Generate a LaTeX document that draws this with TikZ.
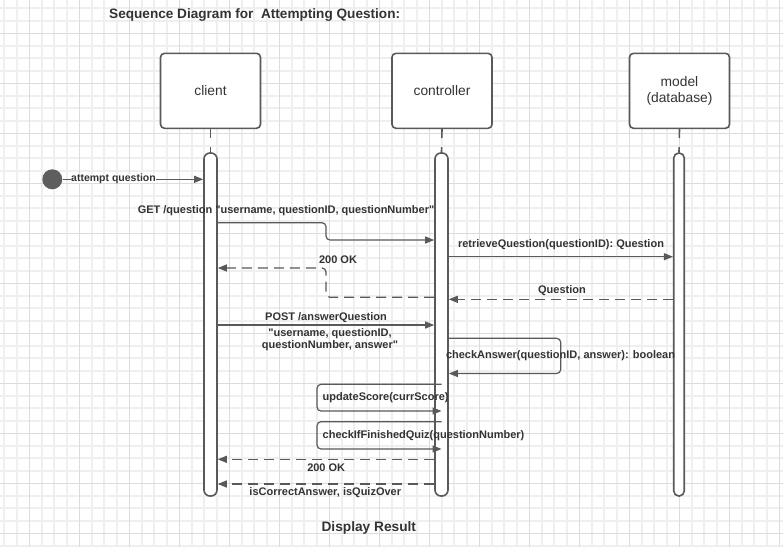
\documentclass[tikz,border=0pt]{standalone}
\usepackage{fontspec}
\setmainfont{Liberation Sans}[Ligatures=TeXOff]
\usetikzlibrary{arrows.meta}
\definecolor{ln}{HTML}{595959}
\definecolor{tx}{HTML}{333333}
\definecolor{gminor}{HTML}{EFEFEF}
\definecolor{gmajor}{HTML}{DCDCDC}
\definecolor{dot}{HTML}{5E5E5E}
\begin{document}
\begin{tikzpicture}[x=1pt,y=-1pt,
  head/.style={draw=ln, line width=1.6pt, rounded corners=4pt, fill=white, minimum width=100pt, minimum height=75pt, inner sep=0pt, text=tx, font=\fontsize{13.8}{16}\selectfont, align=center},
  bar/.style={draw=ln, line width=1.6pt, rounded corners=6pt, fill=white, minimum height=343pt, minimum width=13pt, inner sep=0pt},
  msg/.style={draw=ln, line width=1.2pt, -{Triangle[length=9pt,width=7pt]}},
  ret/.style={msg, dash pattern=on 10pt off 6pt},
  lbl/.style={text=tx, font=\bfseries\fontsize{11}{12.5}\selectfont, inner sep=0pt, anchor=base},
  stub/.style={draw=ln, line width=1.6pt, dash pattern=on 9pt off 9pt},
]
\useasboundingbox (0,0) rectangle (783,547);
\fill[white] (0,0) rectangle (783,547);
\begin{scope}
\clip (0,0) rectangle (783,547);
\foreach \j in {-1,...,15} {
  \foreach \d in {12.5,25,37.5} {
    \draw[gminor, line width=1.8pt] (29.3+50*\j+\d,0) -- (29.3+50*\j+\d,547);
  }
}
\foreach \j in {-1,...,10} {
  \foreach \d in {12.5,25,37.5} {
    \draw[gminor, line width=1.8pt] (0,33.3+50*\j+\d) -- (783,33.3+50*\j+\d);
  }
}
\foreach \j in {0,...,15} {
  \draw[gmajor, line width=0.9pt] (29.3+50*\j,0) -- (29.3+50*\j,547);
}
\foreach \j in {0,...,10} {
  \draw[gmajor, line width=0.9pt] (0,33.3+50*\j) -- (783,33.3+50*\j);
}
\end{scope}

% title
\node[lbl, anchor=base west, font=\bfseries\fontsize{13.6}{16}\selectfont] (title) at (109,18.5) {Sequence Diagram for\ \ Attempting Question:};

% heads
\node[head] (client) at (210.5,90.8) {client};
\node[head] (controller) at (442,90.8) {controller};
\node[head] (model) at (679.5,90.8) {model\\(database)};

% activation bars
\node[bar] (cbar) at (210.5,324.5) {};
\node[bar] (kbar) at (441.5,324.5) {};
\node[bar, minimum width=10.5pt, rounded corners=5pt] (mbar) at (679,324.5) {};

% lifeline stubs
\draw[stub] (client.south) -- (cbar.north);
\draw[stub] (controller.south) -- (kbar.north);
\draw[stub] (model.south) -- (mbar.north);

% start
\node[circle, fill=dot, minimum size=20pt, inner sep=0pt] (start) at (52.3,179.3) {};

% levels
\coordinate (yGetA) at (0,222.7);
\coordinate (yGetB) at (0,240);
\coordinate (xElb) at (326,0);
\coordinate (yRet) at (0,256.7);
\coordinate (yQ) at (0,299.3);
\coordinate (yOkA) at (0,297.3);
\coordinate (yOkB) at (0,268);
\coordinate (yPost) at (0,325);
\coordinate (yCaA) at (0,338.3);
\coordinate (yCaB) at (0,373.5);
\coordinate (xCa) at (560.7,0);
\coordinate (xSelf) at (317,0);
\coordinate (yUsA) at (0,384.3);
\coordinate (yUsB) at (0,411);
\coordinate (yCfA) at (0,421.7);
\coordinate (yCfB) at (0,449);
\coordinate (yOkC) at (0,459.3);
\coordinate (yRes) at (0,484);

% messages
\draw[msg] (start.east) -- (cbar.west |- start);
\draw[msg, rounded corners=4pt] (cbar.east |- yGetA) -| (xElb |- yGetB) -- (kbar.west |- yGetB);
\draw[msg] (kbar.east |- yRet) -- (mbar.west |- yRet);
\draw[ret] (mbar.west |- yQ) -- (kbar.east |- yQ);
\draw[ret, rounded corners=4pt] (kbar.west |- yOkA) -| (xElb |- yOkB) -- (cbar.east |- yOkB);
\draw[msg] (cbar.east |- yPost) -- (kbar.west |- yPost);
\draw[msg, rounded corners=4pt] (kbar.east |- yCaA) -| (xCa |- yCaB) -- (kbar.east |- yCaB);
\draw[msg, rounded corners=4pt] (kbar.center |- yUsA) -| (xSelf |- yUsB) -- (kbar.center |- yUsB);
\draw[msg, rounded corners=4pt] (kbar.center |- yCfA) -| (xSelf |- yCfB) -- (kbar.center |- yCfB);
\draw[ret] (kbar.west |- yOkC) -- (cbar.east |- yOkC);
\draw[ret] (kbar.west |- yRes) -- (cbar.east |- yRes);

% labels
\node[lbl, fill=white, font=\bfseries\fontsize{10.5}{12}\selectfont] (lAtt) at (113.5,181.3) {attempt question};
\node[lbl] (lGet) at (286,213) {GET /question "username, questionID, questionNumber"};
\node[lbl] (lOk1) at (338,263) {200 OK};
\node[lbl] (lRet) at (561,247.5) {retrieveQuestion(questionID): Question};
\node[lbl] (lQ) at (562,293) {Question};
\node[lbl] (lPost) at (326,320) {POST /answerQuestion};
\node[lbl, align=center, anchor=north] (lPostArgs) at (330,328.3) {"username, questionID,\\questionNumber, answer"};
\node[lbl] (lCa) at (560.5,358.5) {checkAnswer(questionID, answer): boolean};
\node[lbl, anchor=base west] (lUs) at (322.5,400) {updateScore(currScore)};
\node[lbl, anchor=base west] (lCf) at (322.5,438.5) {checkIfFinishedQuiz(questionNumber)};
\node[lbl] (lOk2) at (326.2,471.5) {200 OK};
\node[lbl] (lRes) at (325.3,495.5) {isCorrectAnswer, isQuizOver};
\node[lbl, font=\bfseries\fontsize{13.7}{16}\selectfont] (lDisp) at (368.8,531.6) {Display Result};
\end{tikzpicture}
\end{document}
